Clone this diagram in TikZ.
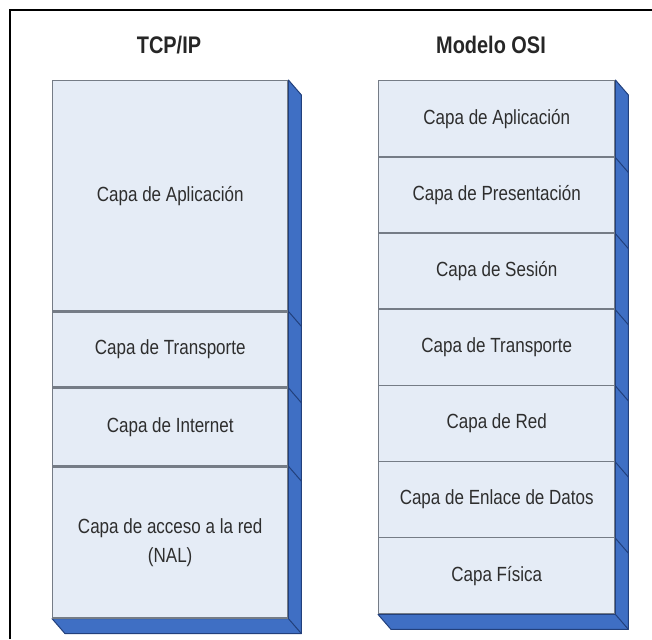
\documentclass[tikz,border=0pt]{standalone}
\usepackage{fontspec}
\setmainfont{Liberation Sans}[FakeStretch=0.83]
\usetikzlibrary{positioning,backgrounds}

\definecolor{layerfill}{HTML}{E5ECF6}
\definecolor{layerline}{HTML}{757C86}
\definecolor{shadowblue}{HTML}{3F6FC4}
\definecolor{shadowline}{HTML}{22407C}
\definecolor{textgray}{HTML}{2E2E2E}

\tikzset{
    layer/.style={draw=layerline, fill=layerfill, line width=1.4pt, anchor=north west,
        inner sep=0pt, align=center, text=textgray,
        font=\fontsize{20.5}{29}\selectfont},
    stacktitle/.style={font=\fontsize{24}{26}\selectfont\bfseries, text=black!85},
    extrude/.style={fill=shadowblue, draw=shadowline, line width=1pt, line join=round}
}

\begin{document}
\begin{tikzpicture}[x=1pt, y=-1pt]
    \useasboundingbox (0,0) rectangle (652,639);
    % Frame
    \draw[line width=2pt] (10,639) -- (10,10) -- (652,10);

    % Titles
    \node[stacktitle] (tcpTitle) at (169,45) {TCP/IP};
    \node[stacktitle] (osiTitle) at (491,45) {Modelo OSI};

    % TCP/IP stack
    \node[layer, minimum width=235pt, minimum height=230pt] (tcpApp) at (52,80) {Capa de Aplicación};
    \node[layer, minimum width=235pt, minimum height=75pt, below=0pt of tcpApp] (tcpTrans) {Capa de Transporte};
    \node[layer, minimum width=235pt, minimum height=77pt, below=0pt of tcpTrans] (tcpNet) {Capa de Internet};
    \node[layer, minimum width=235pt, minimum height=151pt, below=0pt of tcpNet] (tcpNAL) {Capa de acceso a la red\\(NAL)};

    % OSI stack
    \foreach \txt [count=\i] in {Capa de Aplicación, Capa de Presentación, Capa de Sesión,
        Capa de Transporte, Capa de Red, Capa de Enlace de Datos, Capa Física}
        \node[layer, minimum width=236pt, minimum height=76.14pt] (osi\i) at (378,{80+(\i-1)*76.14}) {\txt};

    % 3D sides
    \begin{scope}[on background layer]
        \draw[extrude] (tcpApp.north east) -- ++(13,15) -- ([shift={(13,15)}]tcpNAL.south east)
            -- ([shift={(13,15)}]tcpNAL.south west) -- (tcpNAL.south west) -- (tcpNAL.south east) -- cycle;
        \draw[extrude] (osi1.north east) -- ++(13,15) -- ([shift={(13,15)}]osi7.south east)
            -- ([shift={(13,15)}]osi7.south west) -- (osi7.south west) -- (osi7.south east) -- cycle;
    \end{scope}
    \foreach \n in {tcpApp,tcpTrans,tcpNet,tcpNAL,osi1,osi2,osi3,osi4,osi5,osi6,osi7}
        \draw[shadowline, line width=1pt] (\n.south east) -- ++(13,15);
\end{tikzpicture}
\end{document}
